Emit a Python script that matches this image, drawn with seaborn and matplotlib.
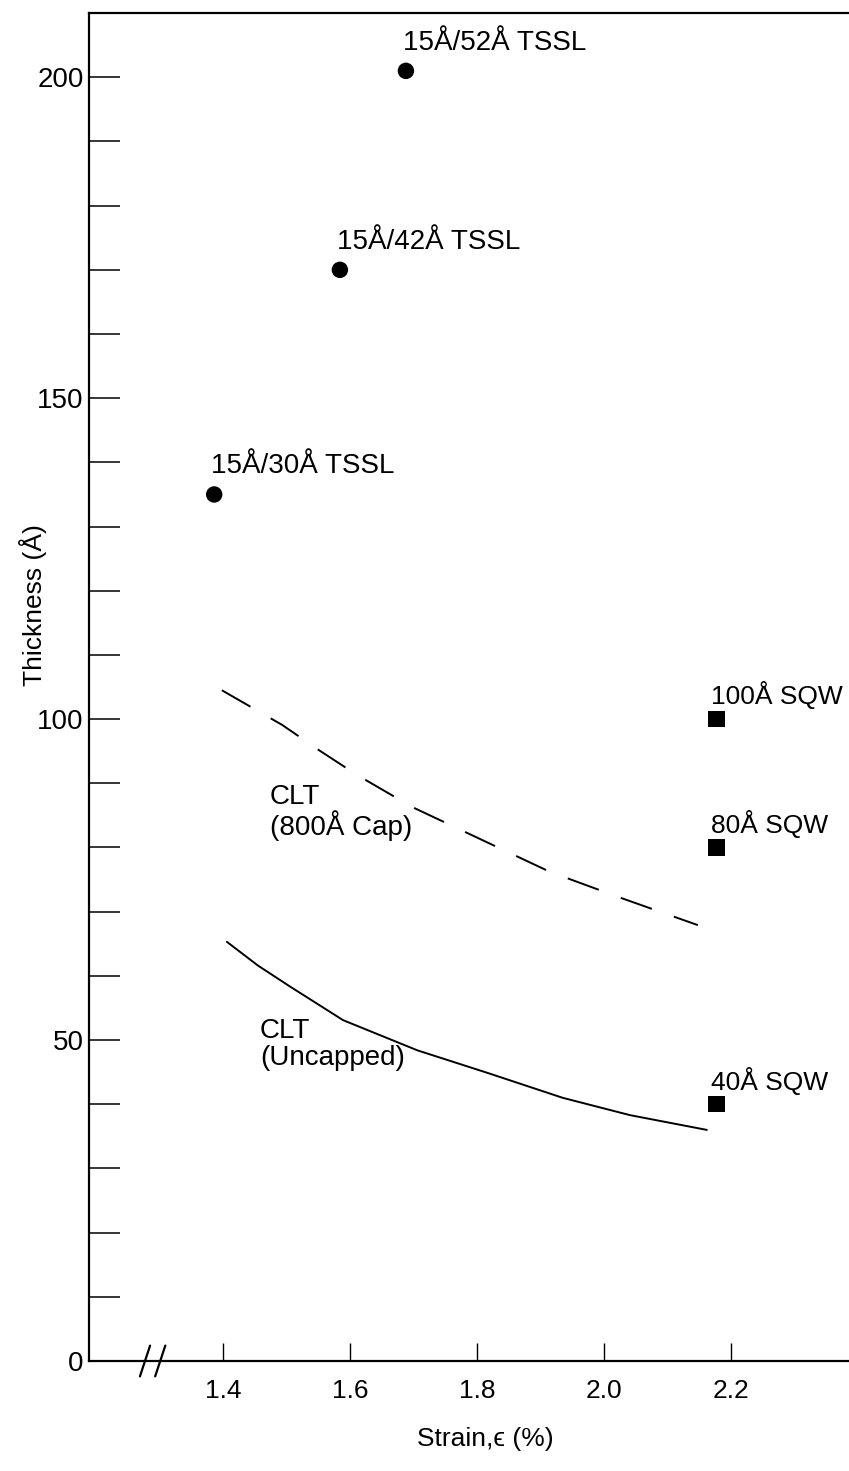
import matplotlib
matplotlib.use("Agg")
import matplotlib.pyplot as plt
import seaborn as sns
import pandas as pd

# --- data ---
tssl_labels = ["15Å/30Å TSSL", "15Å/42Å TSSL", "15Å/52Å TSSL"]
tssl_strain = [1.386, 1.584, 1.688]
tssl_thick = [135, 170, 201]

sqw_labels = ["100Å SQW", "80Å SQW", "40Å SQW"]
sqw_strain = [2.177, 2.177, 2.177]
sqw_thick = [100, 80, 40]

cap_strain = [1.398, 1.493, 1.552, 1.611, 1.698, 1.816, 1.915, 2.028, 2.148]
cap_thick = [104.5, 99.1, 95.1, 91.3, 86.3, 80.8, 76.2, 72.1, 67.9]

unc_strain = [1.406, 1.455, 1.506, 1.589, 1.706, 1.816, 1.935, 2.041, 2.162]
unc_thick = [65.3, 61.6, 58.3, 53.1, 48.4, 44.9, 41.0, 38.3, 36.0]

x_ticks = [1.4, 1.6, 1.8, 2.0, 2.2]
x_ticklabels = ["1.4", "1.6", "1.8", "2.0", "2.2"]
y_major = [0, 50, 100, 150, 200]
y_minor = [10, 20, 30, 40, 60, 70, 80, 90, 110, 120, 130, 140, 160, 170, 180, 190]

sns.set_theme(style="ticks")
plt.rcParams["font.family"] = ["Liberation Sans", "DejaVu Sans"]
plt.rcParams["text.color"] = "black"
plt.rcParams["axes.labelcolor"] = "black"

fig = plt.figure(figsize=(8.49, 14.71), dpi=100)
ax = fig.add_axes([0.105, 0.0748, 0.895, 0.9163])

df_tssl = pd.DataFrame({"strain": tssl_strain, "thick": tssl_thick, "label": tssl_labels})
df_sqw = pd.DataFrame({"strain": sqw_strain, "thick": sqw_thick, "label": sqw_labels})
df_cap = pd.DataFrame({"strain": cap_strain, "thick": cap_thick})
df_unc = pd.DataFrame({"strain": unc_strain, "thick": unc_thick})

sns.lineplot(data=df_cap, x="strain", y="thick", ax=ax, color="black", linewidth=1.4,
             estimator=None, sort=False)
ax.lines[-1].set_dashes((17, 12))
sns.lineplot(data=df_unc, x="strain", y="thick", ax=ax, color="black", linewidth=1.4,
             estimator=None, sort=False)

sns.scatterplot(data=df_tssl, x="strain", y="thick", ax=ax, color="black", marker="o",
                s=140, edgecolor="none", zorder=5)
sns.scatterplot(data=df_sqw, x="strain", y="thick", ax=ax, color="black", marker="s",
                s=140, edgecolor="none", zorder=5)

# point labels
for sx, ty, lab in zip(tssl_strain, tssl_thick, tssl_labels):
    ax.annotate(lab, (sx, ty), xytext=(-2, 11), textcoords="offset points",
                ha="left", va="bottom", fontsize=20)
for sx, ty, lab in zip(sqw_strain, sqw_thick, sqw_labels):
    ax.annotate(lab, (sx, ty), xytext=(-4, 7), textcoords="offset points",
                ha="left", va="bottom", fontsize=19)

ax.text(1.474, 85.4, "CLT\n(800Å Cap)", ha="left", va="center", fontsize=20, linespacing=1.0)
ax.text(1.458, 49.3, "CLT\n(Uncapped)", ha="left", va="center", fontsize=20, linespacing=1.05)

ax.set_xlim(1.189, 2.386)
ax.set_ylim(0, 210)

ax.set_xticks(x_ticks)
ax.set_xticklabels(x_ticklabels)
ax.set_yticks(y_major)
ax.set_yticks(y_minor, minor=True)

ax.tick_params(axis="y", which="both", direction="in", length=22, width=1.1,
               labelsize=20, pad=4, colors="black")
ax.tick_params(axis="x", which="major", direction="in", length=13, width=1.0,
               labelsize=19, pad=13, colors="black")

for side in ["left", "bottom", "top"]:
    ax.spines[side].set_linewidth(1.6)
    ax.spines[side].set_color("black")
ax.spines["right"].set_visible(False)

# axis break marks on the strain axis
for bx in [1.277, 1.301]:
    ax.plot([bx - 0.008, bx + 0.008], [-2.4, 2.4], color="black", linewidth=1.6,
            clip_on=False, zorder=6)

ax.set_xlabel("Strain,ϵ (%)", fontsize=19)
ax.xaxis.set_label_coords(0.521, -0.049)
ax.set_ylabel("Thickness (Å)", fontsize=19)
ax.yaxis.set_label_coords(-0.056, 0.561)

fig.savefig("out.png", dpi=100, facecolor="white")
